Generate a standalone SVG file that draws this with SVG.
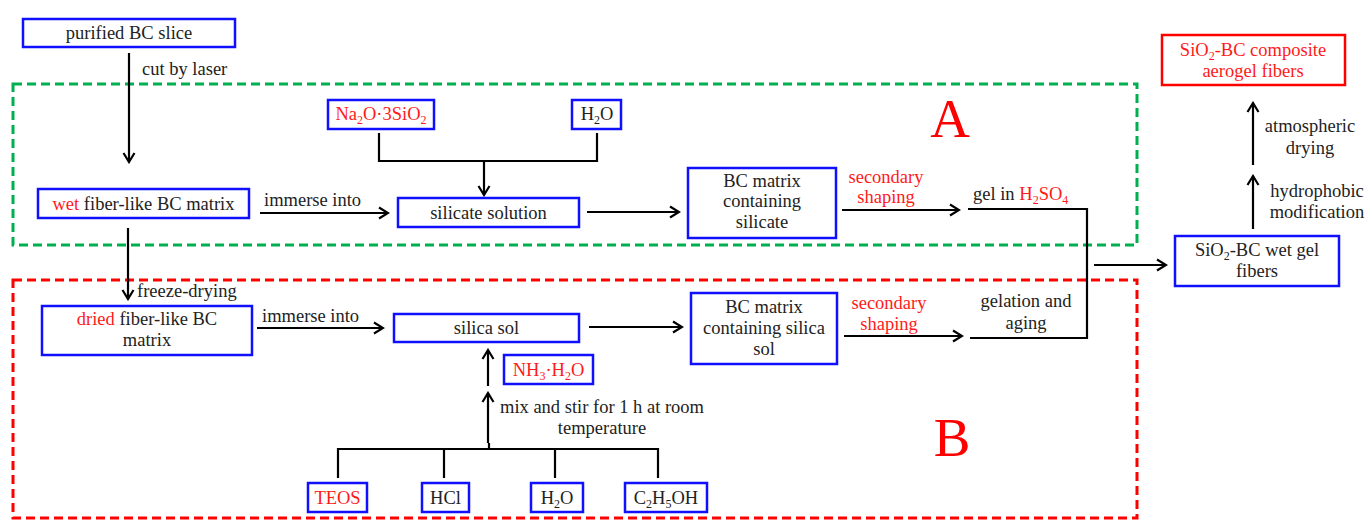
<svg xmlns="http://www.w3.org/2000/svg" width="1370" height="521" viewBox="0 0 1370 521">
<style>
text{font-family:"Liberation Serif","Times New Roman",serif;font-size:18.5px;fill:#222}
.c{text-anchor:middle}
.r{fill:#ff1a1a}
.sub{font-size:12px}
.big{font-size:55px;fill:#ff0000}
.box{fill:#fff;stroke:#1010ff;stroke-width:2.5}
.rbox{fill:#fff;stroke:#ff0000;stroke-width:2.5}
.ln{fill:none;stroke:#000;stroke-width:2.2}
.ar{fill:none;stroke:#000;stroke-width:2.2;marker-end:url(#ah)}
.gd{fill:none;stroke:#00b050;stroke-width:3;stroke-dasharray:9 5}
.rd{fill:none;stroke:#ff0000;stroke-width:3;stroke-dasharray:9 5}
</style>
<defs>
<marker id="ah" markerUnits="userSpaceOnUse" markerWidth="12" markerHeight="14" refX="10" refY="7" orient="auto">
<path d="M1,1.5 L10,7 L1,12.5" fill="none" stroke="#000" stroke-width="2.2"/>
</marker>
</defs>
<rect width="1370" height="521" fill="#fff"/>

<g id="regions">
<rect class="gd" x="13" y="84" width="1124" height="161"/>
<rect class="rd" x="13" y="280" width="1124" height="238"/>
<text class="big c" x="950" y="137">A</text>
<text class="big c" x="952" y="456">B</text>
</g>

<g id="connectors">
<line class="ar" x1="129" y1="53" x2="129" y2="162"/>
<polyline class="ln" points="379,133 379,161 597,161 597,133"/>
<line class="ar" x1="484" y1="161" x2="484" y2="195"/>
<line class="ar" x1="260" y1="213" x2="388" y2="213"/>
<line class="ar" x1="587" y1="212" x2="679" y2="212"/>
<line class="ar" x1="842" y1="210" x2="959" y2="210"/>
<polyline class="ln" points="968,209 1087,209 1087,338 970,338"/>
<line class="ar" x1="1094" y1="265" x2="1166" y2="265"/>
<line class="ar" x1="1253" y1="229" x2="1253" y2="176"/>
<line class="ar" x1="1253" y1="165" x2="1253" y2="103"/>
<line class="ar" x1="128" y1="228" x2="128" y2="299"/>
<line class="ar" x1="257" y1="328" x2="383" y2="328"/>
<line class="ar" x1="589" y1="327" x2="682" y2="327"/>
<line class="ar" x1="844" y1="336" x2="962" y2="336"/>
<line class="ar" x1="488" y1="386" x2="488" y2="350"/>
<line class="ar" x1="488" y1="443" x2="488" y2="393"/>
<polyline class="ln" points="338,478 338,449 658,449 658,478"/>
<line class="ln" x1="444" y1="449" x2="444" y2="478"/>
<line class="ln" x1="555" y1="449" x2="555" y2="478"/>
<line class="ln" x1="489" y1="443" x2="489" y2="449"/>
</g>

<g id="labels">
<text x="142" y="75">cut by laser</text>
<text x="264" y="206">immerse into</text>
<text class="c r" x="886" y="183">secondary</text>
<text class="c r" x="886" y="203">shaping</text>
<text x="973" y="200">gel in <tspan class="r">H<tspan class="sub" dy="4">2</tspan><tspan dy="-4">SO</tspan><tspan class="sub" dy="4">4</tspan></tspan></text>
<text x="137" y="297">freeze-drying</text>
<text x="262" y="322">immerse into</text>
<text class="c r" x="889" y="309">secondary</text>
<text class="c r" x="889" y="330">shaping</text>
<text class="c" x="1026" y="307">gelation and</text>
<text class="c" x="1026" y="329">aging</text>
<text class="c" x="602" y="413">mix and stir for 1 h at room</text>
<text class="c" x="602" y="434">temperature</text>
<text class="c" x="1310" y="132">atmospheric</text>
<text class="c" x="1310" y="154">drying</text>
<text class="c" x="1317" y="197">hydrophobic</text>
<text class="c" x="1317" y="218">modification</text>
</g>

<g id="n-purified">
<rect class="box" x="23" y="19" width="212" height="28"/>
<text class="c" x="129" y="39">purified BC slice</text>
</g>
<g id="n-na2o">
<rect class="box" x="328" y="100" width="106" height="29"/>
<text class="c r" x="381" y="120">Na<tspan class="sub" dy="4">2</tspan><tspan dy="-4">O·3SiO</tspan><tspan class="sub" dy="4">2</tspan></text>
</g>
<g id="n-h2o-a">
<rect class="box" x="572" y="100" width="49" height="29"/>
<text class="c" x="597" y="120">H<tspan class="sub" dy="4">2</tspan><tspan dy="-4">O</tspan></text>
</g>
<g id="n-wet">
<rect class="box" x="38" y="189" width="211" height="29"/>
<text class="c" x="143.5" y="210"><tspan class="r">wet</tspan> fiber-like BC matrix</text>
</g>
<g id="n-silicate">
<rect class="box" x="398" y="198" width="181" height="29"/>
<text class="c" x="488.5" y="219">silicate solution</text>
</g>
<g id="n-bcsilicate">
<rect class="box" x="688" y="168" width="148" height="70"/>
<text class="c" x="762" y="187">BC matrix</text>
<text class="c" x="762" y="207">containing</text>
<text class="c" x="762" y="228">silicate</text>
</g>
<g id="n-aerogel">
<rect class="rbox" x="1162" y="35" width="183" height="50"/>
<text class="c r" x="1253" y="56">SiO<tspan class="sub" dy="4">2</tspan><tspan dy="-4">-BC composite</tspan></text>
<text class="c r" x="1253" y="77">aerogel fibers</text>
</g>
<g id="n-wetgel">
<rect class="box" x="1175" y="236" width="164" height="50"/>
<text class="c" x="1257" y="256">SiO<tspan class="sub" dy="4">2</tspan><tspan dy="-4">-BC wet gel</tspan></text>
<text class="c" x="1257" y="277">fibers</text>
</g>
<g id="n-dried">
<rect class="box" x="42" y="306" width="210" height="49"/>
<text class="c" x="147" y="325"><tspan class="r">dried</tspan> fiber-like BC</text>
<text class="c" x="147" y="346">matrix</text>
</g>
<g id="n-silicasol">
<rect class="box" x="394" y="314" width="185" height="28"/>
<text class="c" x="486.5" y="334">silica sol</text>
</g>
<g id="n-bcsol">
<rect class="box" x="691" y="293" width="146" height="71"/>
<text class="c" x="764" y="313">BC matrix</text>
<text class="c" x="764" y="334">containing silica</text>
<text class="c" x="764" y="355">sol</text>
</g>
<g id="n-nh3">
<rect class="box" x="504" y="355" width="89" height="29"/>
<text class="c r" x="548.5" y="376">NH<tspan class="sub" dy="4">3</tspan><tspan dy="-4">·H</tspan><tspan class="sub" dy="4">2</tspan><tspan dy="-4">O</tspan></text>
</g>
<g id="n-teos">
<rect class="box" x="308" y="483" width="59" height="29"/>
<text class="c r" x="337.5" y="504">TEOS</text>
</g>
<g id="n-hcl">
<rect class="box" x="422" y="483" width="47" height="29"/>
<text class="c" x="445.5" y="504">HCl</text>
</g>
<g id="n-h2o-b">
<rect class="box" x="531" y="483" width="52" height="29"/>
<text class="c" x="557" y="504">H<tspan class="sub" dy="4">2</tspan><tspan dy="-4">O</tspan></text>
</g>
<g id="n-ethanol">
<rect class="box" x="625" y="483" width="82" height="29"/>
<text class="c" x="666" y="504">C<tspan class="sub" dy="4">2</tspan><tspan dy="-4">H</tspan><tspan class="sub" dy="4">5</tspan><tspan dy="-4">OH</tspan></text>
</g>
</svg>
